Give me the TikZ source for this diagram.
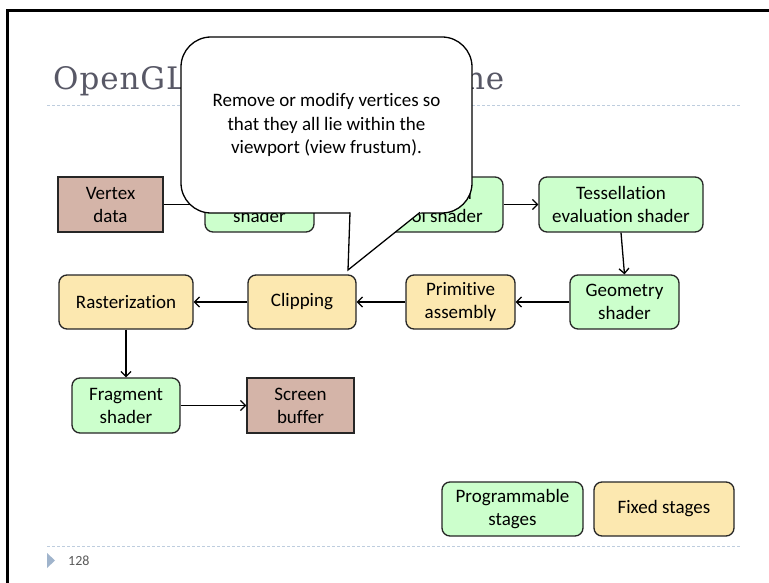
\documentclass[tikz,border=0pt]{standalone}
\usepackage{fontspec}
\setmainfont{Carlito}[Ligatures=NoCommon]
\newfontfamily\titlefont{DejaVu Serif}[LetterSpace=3]
\usetikzlibrary{arrows.meta}
\definecolor{progc}{RGB}{204,255,204}
\definecolor{fixc}{RGB}{252,232,176}
\definecolor{datac}{RGB}{212,180,168}
\definecolor{titlec}{RGB}{88,88,102}
\definecolor{dotc}{RGB}{190,205,222}
\definecolor{markc}{RGB}{160,180,204}
\definecolor{pagec}{RGB}{90,90,90}
\begin{document}
\begin{tikzpicture}[x=1pt,y=-1pt,
  box/.style={draw=black!85, line width=1.3pt, rounded corners=8pt, inner sep=0pt,
    align=center, font=\fontsize{19}{23}\selectfont, minimum height=55pt},
  prog/.style={box, fill=progc},
  fixd/.style={box, fill=fixc},
  datab/.style={box, fill=datac, sharp corners},
  arr/.style={line width=1.3pt, -{Straight Barb[length=5pt,width=10pt]}},
  dotline/.style={dotc, line width=1pt, dash pattern=on 3pt off 2pt},
  callout/.style={draw, line width=1.3pt, fill=white, rounded corners=30pt, inner sep=0pt,
    align=center, font=\fontsize{19}{23.5}\selectfont}]
\useasboundingbox (0,0) rectangle (769,583);
\fill[white] (0,0) rectangle (769,583);

% title and rules
\node[anchor=base west, inner sep=0pt, text=titlec, font=\titlefont\fontsize{31}{31}\selectfont] (title) at (53,90) {OpenGL rendering pipeline};
\coordinate (tl1) at (47,106); \coordinate (tl2) at (740,106);
\draw[dotline] (tl1) -- (tl2);
\coordinate (bl1) at (47,546); \coordinate (bl2) at (740,546);
\draw[dotline] (bl1) -- (bl2);

% footer
\fill[markc] (47,553) -- (55,560.5) -- (47,568) -- cycle;
\node[anchor=west, inner sep=0pt, text=pagec, font=\fontsize{14}{14}\selectfont] (pg) at (68,560.5) {128};

% stages
\node[datab, minimum width=105pt] (vd) at (110.5,204.5) {Vertex\\data};
\node[prog, minimum width=109pt] (vs) at (259.5,204.5) {Vertex\\shader};
\node[prog, minimum width=152pt] (tc) at (427,204.5) {Tessellation\\control shader};
\node[prog, minimum width=164pt] (te) at (621,204.5) {Tessellation\\evaluation shader};
\node[prog, minimum width=109pt, minimum height=54pt] (ge) at (624.5,302) {Geometry\\shader};
\node[fixd, minimum width=109pt, minimum height=54pt] (pa) at (460.5,302) {Primitive\\assembly};
\node[fixd, minimum width=108pt, minimum height=54pt] (cl) at (302,302) {Clipping};
\node[fixd, minimum width=134pt, minimum height=54pt] (ra) at (126,302) {Rasterization};
\node[prog, minimum width=108pt] (fs) at (126,405.5) {Fragment\\shader};
\node[datab, minimum width=107pt] (sb) at (300.5,405.5) {Screen\\buffer};

% legend
\node[prog, minimum width=141pt, minimum height=54pt] (lp) at (512.5,509) {Programmable\\stages};
\node[fixd, minimum width=140pt, minimum height=54pt] (lf) at (664,509) {Fixed stages};

% connectors
\draw[arr] (vd) -- (vs);
\draw[arr] (vs) -- (tc);
\draw[arr] (tc) -- (te);
\draw[arr] (te.south) -- (ge.north);
\draw[arr] (ge) -- (pa);
\draw[arr] (pa) -- (cl);
\draw[arr] (cl) -- (ra);
\draw[arr] (ra) -- (fs);
\draw[arr] (fs) -- (sb);

% callout
\node[callout, minimum width=291pt, minimum height=176pt] (co) at (326.5,125)
  {Remove or modify vertices so\\that they all lie within the\\viewport (view frustum).};
\coordinate (tip) at (348,270);
\fill[white] (350,211.5) -- (350,213) -- (tip) -- (420,213) -- (422.5,211.5) -- cycle;
\draw[line width=1.3pt, line join=miter] (350,212.4) -- (tip) -- (420,212.4);

% slide frame
\draw[line width=2.5pt] (7.5,583) -- (7.5,10.3) -- (769,10.3);
\end{tikzpicture}
\end{document}
